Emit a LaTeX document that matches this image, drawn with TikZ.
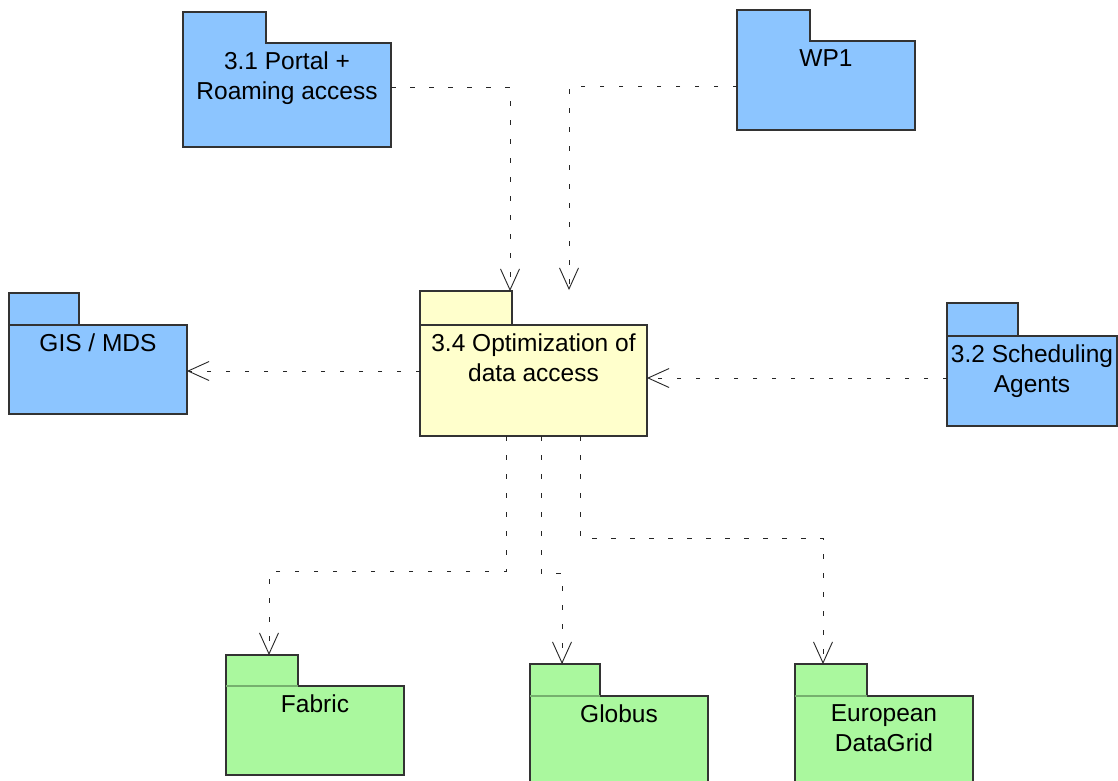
\documentclass[tikz,border=0pt]{standalone}
\usepackage{fontspec}
\setmainfont{Liberation Sans}
\usetikzlibrary{arrows.meta}

\definecolor{pkgblue}{RGB}{140,197,255}
\definecolor{pkgyellow}{RGB}{255,255,204}
\definecolor{pkggreen}{RGB}{170,248,158}
\definecolor{pkgedge}{RGB}{51,51,51}
\definecolor{greensep}{RGB}{118,176,110}

\tikzset{
  pkgpart/.style={inner sep=0pt, outer sep=0pt, draw=none},
  pkgline/.style={draw=pkgedge, line width=1.2pt, line join=miter},
  pkglabel/.style={inner sep=0pt, outer sep=0pt, align=center,
    font=\fontsize{24.5}{30}\selectfont, text=black},
  % fill / separator pairs for the three package families
  bluea fill/.style={fill=pkgblue},
  bluea sep/.style={draw=none},
  blueb fill/.style={fill=pkgblue},
  blueb sep/.style={draw=pkgedge, line width=1.1pt},
  yellow fill/.style={fill=pkgyellow},
  yellow sep/.style={draw=pkgedge, line width=1.1pt},
  green fill/.style={fill=pkggreen},
  green sep/.style={draw=greensep, line width=1.1pt},
  dep/.style={draw=black!85, line width=0.9pt, dash pattern=on 4.5pt off 14.5pt,
    -{Straight Barb[length=21pt, width=19pt, line width=0.9pt]}},
}

% UML package: name, left x, tab top, tab right, body top, body right, bottom, family, label
\newcommand{\umlpkg}[9]{%
  \node[pkgpart, #8 fill, minimum width={#4-#2}, minimum height={#5-#3},
        anchor=north west] (#1tab) at (#2,#3) {};
  \node[pkgpart, #8 fill, minimum width={#6-#2}, minimum height={#7-#5},
        anchor=north west] (#1) at (#2,#5) {};
  \draw[pkgline] (#1tab.south west) -- (#1tab.north west) -- (#1tab.north east)
    -- (#1tab.south east) -- (#1.north east) -- (#1.south east)
    -- (#1.south west) -- cycle;
  \path[#8 sep] (#1tab.south west) -- (#1tab.south east);
  \node[pkglabel, anchor=north, yshift=-8.5pt] (#1label) at (#1.north) {#9};
}

\begin{document}
\begin{tikzpicture}[x=1pt, y=-1pt]
\useasboundingbox (0,0) rectangle (1118,780);
\clip (0,0) rectangle (1118,780);
\fill[white] (0,0) rectangle (1118,780);

% packages
\umlpkg{portal}{183}{12}{266}{43}{391}{147}{bluea}{3.1 Portal +\\Roaming access}
\umlpkg{wpone}{737}{10}{810}{41}{915}{130}{bluea}{WP1}
\umlpkg{optim}{420}{291}{512}{325}{647}{436}{yellow}{3.4 Optimization of\\data access}
\umlpkg{gis}{9}{293}{79}{325}{187}{414}{blueb}{GIS / MDS}
\umlpkg{sched}{947}{303}{1018}{336}{1117}{426}{blueb}{3.2 Scheduling\\Agents}
\umlpkg{fabric}{226}{655}{298}{686}{404}{775}{green}{Fabric}
\umlpkg{globus}{530}{664}{600}{696}{708}{800}{green}{Globus}
\umlpkg{edg}{795}{664}{867}{696}{973}{800}{green}{European\\DataGrid}

% bend points of the dependency lines
\coordinate (pbend) at (510,87);
\coordinate (wbend) at (569,86);
\coordinate (wend)  at (569,290);
\coordinate (glev)  at (300,371);
\coordinate (slev)  at (800,378);
\coordinate (fa1) at (506,571);
\coordinate (fa2) at (269,571);
\coordinate (gl1) at (541,573);
\coordinate (gl2) at (562,573);
\coordinate (ed1) at (580,538);
\coordinate (ed2) at (823,538);

% dependencies
\draw[dep] (pbend -| portal.east) -- (pbend) -- (pbend |- optimtab.north);
\draw[dep] (wbend -| wpone.west) -- (wbend) -- (wend);
\draw[dep] (glev -| optim.west) -- (glev -| gis.east);
\draw[dep] (slev -| sched.west) -- (slev -| optim.east);
\draw[dep] (fa1 |- optim.south) -- (fa1) -- (fa2) -- (fa2 |- fabrictab.north);
\draw[dep] (gl1 |- optim.south) -- (gl1) -- (gl2) -- (gl2 |- globustab.north);
\draw[dep] (ed1 |- optim.south) -- (ed1) -- (ed2) -- (ed2 |- edgtab.north);
\end{tikzpicture}
\end{document}
